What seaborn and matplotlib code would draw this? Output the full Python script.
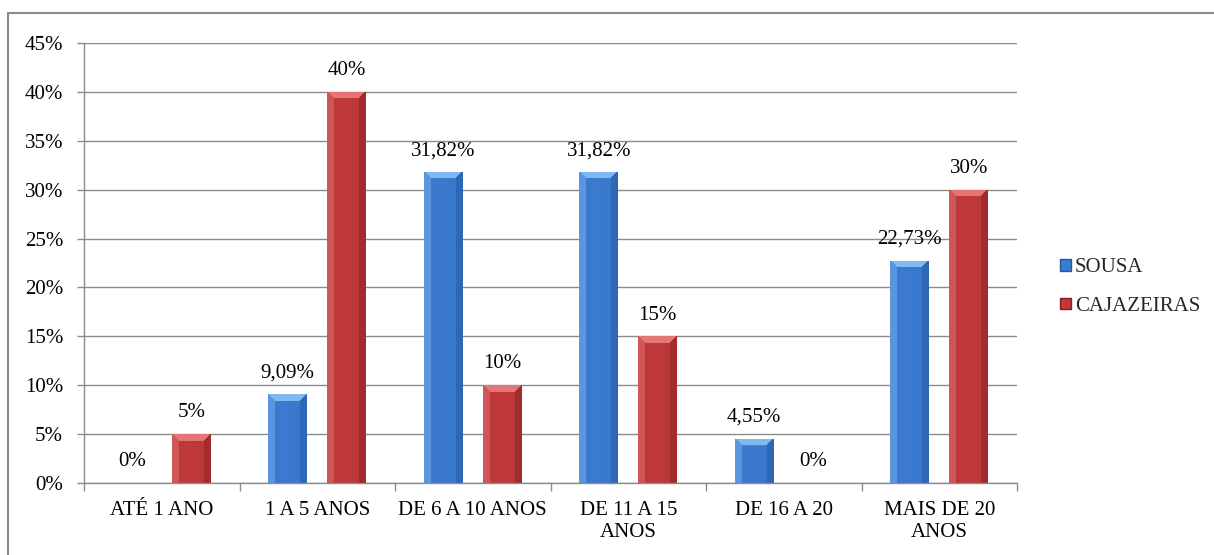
import numpy as np
import pandas as pd
import matplotlib
matplotlib.use("Agg")
import matplotlib.pyplot as plt
import matplotlib.colors as mcolors
from matplotlib.patches import Patch
from matplotlib.lines import Line2D
from matplotlib.ticker import MultipleLocator, FixedLocator, PercentFormatter
import seaborn as sns

# Tempo de atuação por faixa, em % de cada município
categories = ["ATÉ 1 ANO", "1 A 5 ANOS", "DE 6 A 10 ANOS",
              "DE 11 A 15\nANOS", "DE 16 A 20", "MAIS DE 20\nANOS"]
sousa = [0, 9.09, 31.82, 31.82, 4.55, 22.73]
cajazeiras = [5, 40, 10, 15, 0, 30]
series_names = ["SOUSA", "CAJAZEIRAS"]

df = pd.DataFrame({
    "faixa": categories * 2,
    "valor": sousa + cajazeiras,
    "cidade": [series_names[0]] * len(categories) + [series_names[1]] * len(categories),
})

sns.set_theme(style="white")
plt.rcParams["font.family"] = ["Liberation Serif", "DejaVu Serif"]

# (light, face, dark) shades for each series
shades = {
    "SOUSA": ("#80b8f0", "#3b7bd0", "#24589f"),
    "CAJAZEIRAS": ("#e47676", "#c13a3b", "#8a1f21"),
}

fig = plt.figure(figsize=(12.14, 5.55), dpi=100)
ax = fig.add_axes([84 / 1214, 1 - 483 / 555, (1017 - 84) / 1214, (483 - 43) / 555])

sns.barplot(data=df, x="faixa", y="valor", hue="cidade", order=categories,
            hue_order=series_names, palette=[shades[n][1] for n in series_names],
            width=0.76, gap=0.34, ax=ax, legend=False, errorbar=None,
            edgecolor="none", linewidth=0)

ax.set_ylim(0, 45)
ax.set_xlim(-0.5, len(categories) - 0.5)
ax.yaxis.set_major_locator(MultipleLocator(5))
ax.yaxis.set_major_formatter(PercentFormatter(decimals=0))
ax.grid(axis="y", color="#8c8c8c", linewidth=1.0)
ax.set_axisbelow(True)
ax.set_xlabel("")
ax.set_ylabel("")

for side in ("top", "right"):
    ax.spines[side].set_visible(False)
for side in ("left", "bottom"):
    ax.spines[side].set_color("#8c8c8c")
    ax.spines[side].set_linewidth(1.0)

ax.tick_params(axis="y", length=5, width=1.0, color="#8c8c8c", pad=10,
               labelsize=15, labelcolor="black", left=True)
ax.tick_params(axis="x", which="major", length=0, pad=13, labelsize=15,
               labelcolor="black")
ax.xaxis.set_minor_locator(FixedLocator(np.arange(-0.5, len(categories), 1.0)))
ax.tick_params(axis="x", which="minor", length=6, width=1.0, color="#8c8c8c",
               bottom=True)
for lbl in ax.get_xticklabels():
    lbl.set_linespacing(1.22)
    lbl.set_verticalalignment("top")


def bevel_image(wpx, hpx, light, face, dark, b=7):
    """RGB image of a bevelled bar of wpx x hpx pixels."""
    wpx = max(int(round(wpx)), 2)
    hpx = max(int(round(hpx)), 2)
    L = np.array(mcolors.to_rgb(light))
    F = np.array(mcolors.to_rgb(face))
    D = np.array(mcolors.to_rgb(dark))
    xs = (np.arange(wpx) + 0.5)
    ys = (np.arange(hpx) + 0.5)  # 0 at top
    X, Y = np.meshgrid(xs, ys)
    # face: slightly lighter towards the middle-left
    t = np.clip(X / wpx, 0, 1)
    k = 1 - np.abs(t - 0.45) / 0.55
    m = (0.85 + 0.15 * k)[..., None]
    img = F * m + (1 - m) * D
    dl = X
    dr = wpx - X
    dt = Y
    left = (dl < b) & (dl <= dr) & (dl <= dt)
    right = (dr < b) & (dr < dl) & (dr <= dt)
    top = (dt < b) & ~left & ~right
    img[left] = 0.55 * F + 0.45 * L
    img[right] = 0.45 * F + 0.55 * D
    img[top] = L
    return img


fig.canvas.draw()
to_px = ax.transData
for container, name in zip(ax.containers, series_names):
    light, face, dark = shades[name]
    for bar in container:
        x0, y0 = bar.get_x(), bar.get_y()
        w, h = bar.get_width(), bar.get_height()
        if h <= 0:
            continue
        p0 = to_px.transform((x0, y0))
        p1 = to_px.transform((x0 + w, y0 + h))
        img = bevel_image(p1[0] - p0[0], p1[1] - p0[1], light, face, dark)
        im = ax.imshow(img, extent=(x0, x0 + w, y0, y0 + h), aspect="auto",
                       interpolation="bilinear", zorder=bar.get_zorder() + 0.1)
        im.set_clip_path(bar)

ax.set_xlim(-0.5, len(categories) - 0.5)
ax.set_ylim(0, 45)


def fmt(v):
    if float(v).is_integer():
        return f"{int(v)}%"
    return f"{v:.2f}".replace(".", ",") + "%"


for container, vals in zip(ax.containers, [sousa, cajazeiras]):
    ax.bar_label(container, labels=[fmt(v) for v in vals], padding=8.5,
                 fontsize=15, color="black")

handles = [
    Patch(facecolor=shades[n][1], edgecolor=shades[n][2], linewidth=1.0, label=n)
    for n in series_names
]
fig.legend(handles=handles, loc="center left",
           bbox_to_anchor=(1052 / 1214, 1 - 287 / 555), frameon=False,
           fontsize=15, handlelength=0.5, handleheight=0.5,
           handletextpad=0.2, labelspacing=0.95, borderaxespad=0)

# outer chart frame
frame_kw = dict(color="#8c8c8c", linewidth=1.5, transform=fig.transFigure)
fig.add_artist(Line2D([8 / 1214, 1.01], [1 - 13 / 555] * 2, **frame_kw))
fig.add_artist(Line2D([8 / 1214] * 2, [1 - 13 / 555, -0.01], **frame_kw))

fig.savefig("out.png", dpi=100)
